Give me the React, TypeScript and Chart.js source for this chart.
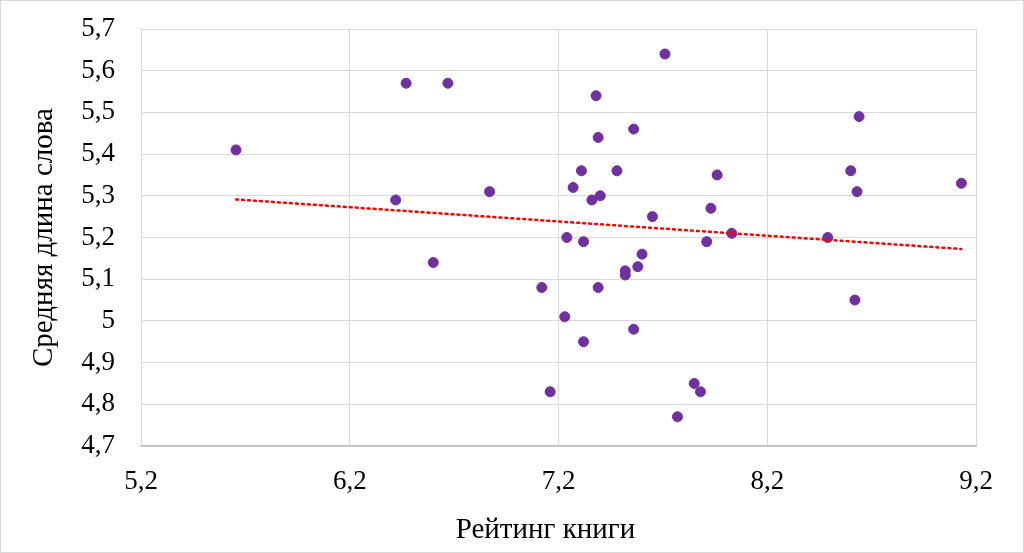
import React, { useEffect, useRef } from "react";
import { Chart, registerables, Plugin } from "chart.js";

Chart.register(...registerables);

// Book rating (x) and average word length (y)
const ratings = [
  5.655, 6.47, 6.67, 6.42, 6.87, 6.6, 7.71, 7.38, 7.39, 7.56, 8.64, 7.31,
  7.48, 7.96, 8.6, 7.27, 7.4, 7.36, 8.63, 9.13, 7.93, 7.65, 8.03, 7.24, 7.32,
  7.91, 8.49, 7.6, 7.58, 7.52, 7.52, 7.12, 7.39, 8.62, 7.23, 7.56, 7.32, 7.85,
  7.88, 7.16, 7.77,
];
const wordLengths = [
  5.41, 5.57, 5.57, 5.29, 5.31, 5.14, 5.64, 5.54, 5.44, 5.46, 5.49, 5.36,
  5.36, 5.35, 5.36, 5.32, 5.3, 5.29, 5.31, 5.33, 5.27, 5.25, 5.21, 5.2, 5.19,
  5.19, 5.2, 5.16, 5.13, 5.12, 5.11, 5.08, 5.08, 5.05, 5.01, 4.98, 4.95, 4.85,
  4.83, 4.83, 4.77,
];

const xTicks = [5.2, 6.2, 7.2, 8.2, 9.2];
const yTicks = [4.7, 4.8, 4.9, 5, 5.1, 5.2, 5.3, 5.4, 5.5, 5.6, 5.7];

const xTitle = "Рейтинг книги";
const yTitle = "Средняя длина слова";

const FONT = '"Liberation Serif", "Times New Roman", serif';

const fmt = (v: number) => String(Number(v.toFixed(1))).replace(".", ",");

// least squares trend line over the points
function trend() {
  const n = ratings.length;
  const mx = ratings.reduce((a, b) => a + b, 0) / n;
  const my = wordLengths.reduce((a, b) => a + b, 0) / n;
  let sxy = 0;
  let sxx = 0;
  for (let i = 0; i < n; i++) {
    sxy += (ratings[i] - mx) * (wordLengths[i] - my);
    sxx += (ratings[i] - mx) ** 2;
  }
  const k = sxy / sxx;
  const b = my - k * mx;
  const x0 = Math.min(...ratings);
  const x1 = Math.max(...ratings);
  return [
    { x: x0, y: k * x0 + b },
    { x: x1, y: k * x1 + b },
  ];
}

// white background, thin frame, and the x title (sits a bit left of the plot centre)
const frame: Plugin = {
  id: "frame",
  beforeDraw(chart) {
    const { ctx, width, height } = chart;
    ctx.save();
    ctx.fillStyle = "#ffffff";
    ctx.fillRect(0, 0, width, height);
    ctx.strokeStyle = "#d9d9d9";
    ctx.lineWidth = 1;
    ctx.strokeRect(0.5, 0.5, width - 1, height - 1);
    ctx.restore();
  },
  afterDraw(chart) {
    const { ctx, chartArea } = chart;
    ctx.save();
    ctx.fillStyle = "#000";
    ctx.font = `29px ${FONT}`;
    ctx.textAlign = "center";
    ctx.textBaseline = "middle";
    ctx.fillText(xTitle, (chartArea.left + chartArea.right) / 2 - 13, chart.height - 23);
    ctx.restore();
  },
};

const App: React.FC = () => {
  const canvasRef = useRef<HTMLCanvasElement | null>(null);
  const chartRef = useRef<Chart | null>(null);

  useEffect(() => {
    if (!canvasRef.current) return;
    if (chartRef.current) chartRef.current.destroy();

    chartRef.current = new Chart(canvasRef.current, {
      type: "scatter",
      data: {
        datasets: [
          {
            type: "line",
            data: trend(),
            borderColor: "#ff0000",
            borderWidth: 2.5,
            borderDash: [2, 4],
            borderCapStyle: "round",
            pointRadius: 0,
            order: 0,
          },
          {
            data: ratings.map((x, i) => ({ x, y: wordLengths[i] })),
            backgroundColor: "#7030a0",
            borderColor: "#7030a0",
            pointRadius: 5,
            order: 1,
          },
        ],
      },
      options: {
        responsive: false,
        animation: false,
        devicePixelRatio: 1,
        layout: { padding: { left: 0, top: 29, right: 48, bottom: 0 } },
        plugins: {
          legend: { display: false },
          tooltip: { enabled: false },
        },
        scales: {
          x: {
            type: "linear",
            min: 5.2,
            max: 9.2,
            afterBuildTicks: (s) => {
              s.ticks = xTicks.map((value) => ({ value }));
            },
            afterFit: (s) => {
              s.height = 107;
            },
            grid: { color: "#d9d9d9", drawTicks: false },
            border: { color: "#bfbfbf", width: 1.5 },
            ticks: {
              padding: 20,
              color: "#000",
              font: { family: FONT, size: 27 },
              callback: (v) => fmt(Number(v)),
            },
          },
          y: {
            type: "linear",
            min: 4.7,
            max: 5.7,
            afterBuildTicks: (s) => {
              s.ticks = yTicks.map((value) => ({ value }));
            },
            afterFit: (s) => {
              s.width = 141;
              s.paddingTop = 0;
              s.paddingBottom = 0;
            },
            grid: { color: "#d9d9d9", drawTicks: false },
            border: { color: "#d9d9d9" },
            ticks: {
              padding: 26,
              color: "#000",
              font: { family: FONT, size: 27 },
              callback: (v) => fmt(Number(v)),
            },
            title: {
              display: true,
              text: yTitle,
              color: "#000",
              font: { family: FONT, size: 29 },
              padding: { top: 27, bottom: 0 },
            },
          },
        },
      },
      plugins: [frame],
    });

    return () => {
      if (chartRef.current) {
        chartRef.current.destroy();
        chartRef.current = null;
      }
    };
  }, []);

  return (
    <div style={{ position: "absolute", left: 0, top: 0, width: 1024, height: 553 }}>
      <canvas ref={canvasRef} width={1024} height={553} />
    </div>
  );
};

export default App;
